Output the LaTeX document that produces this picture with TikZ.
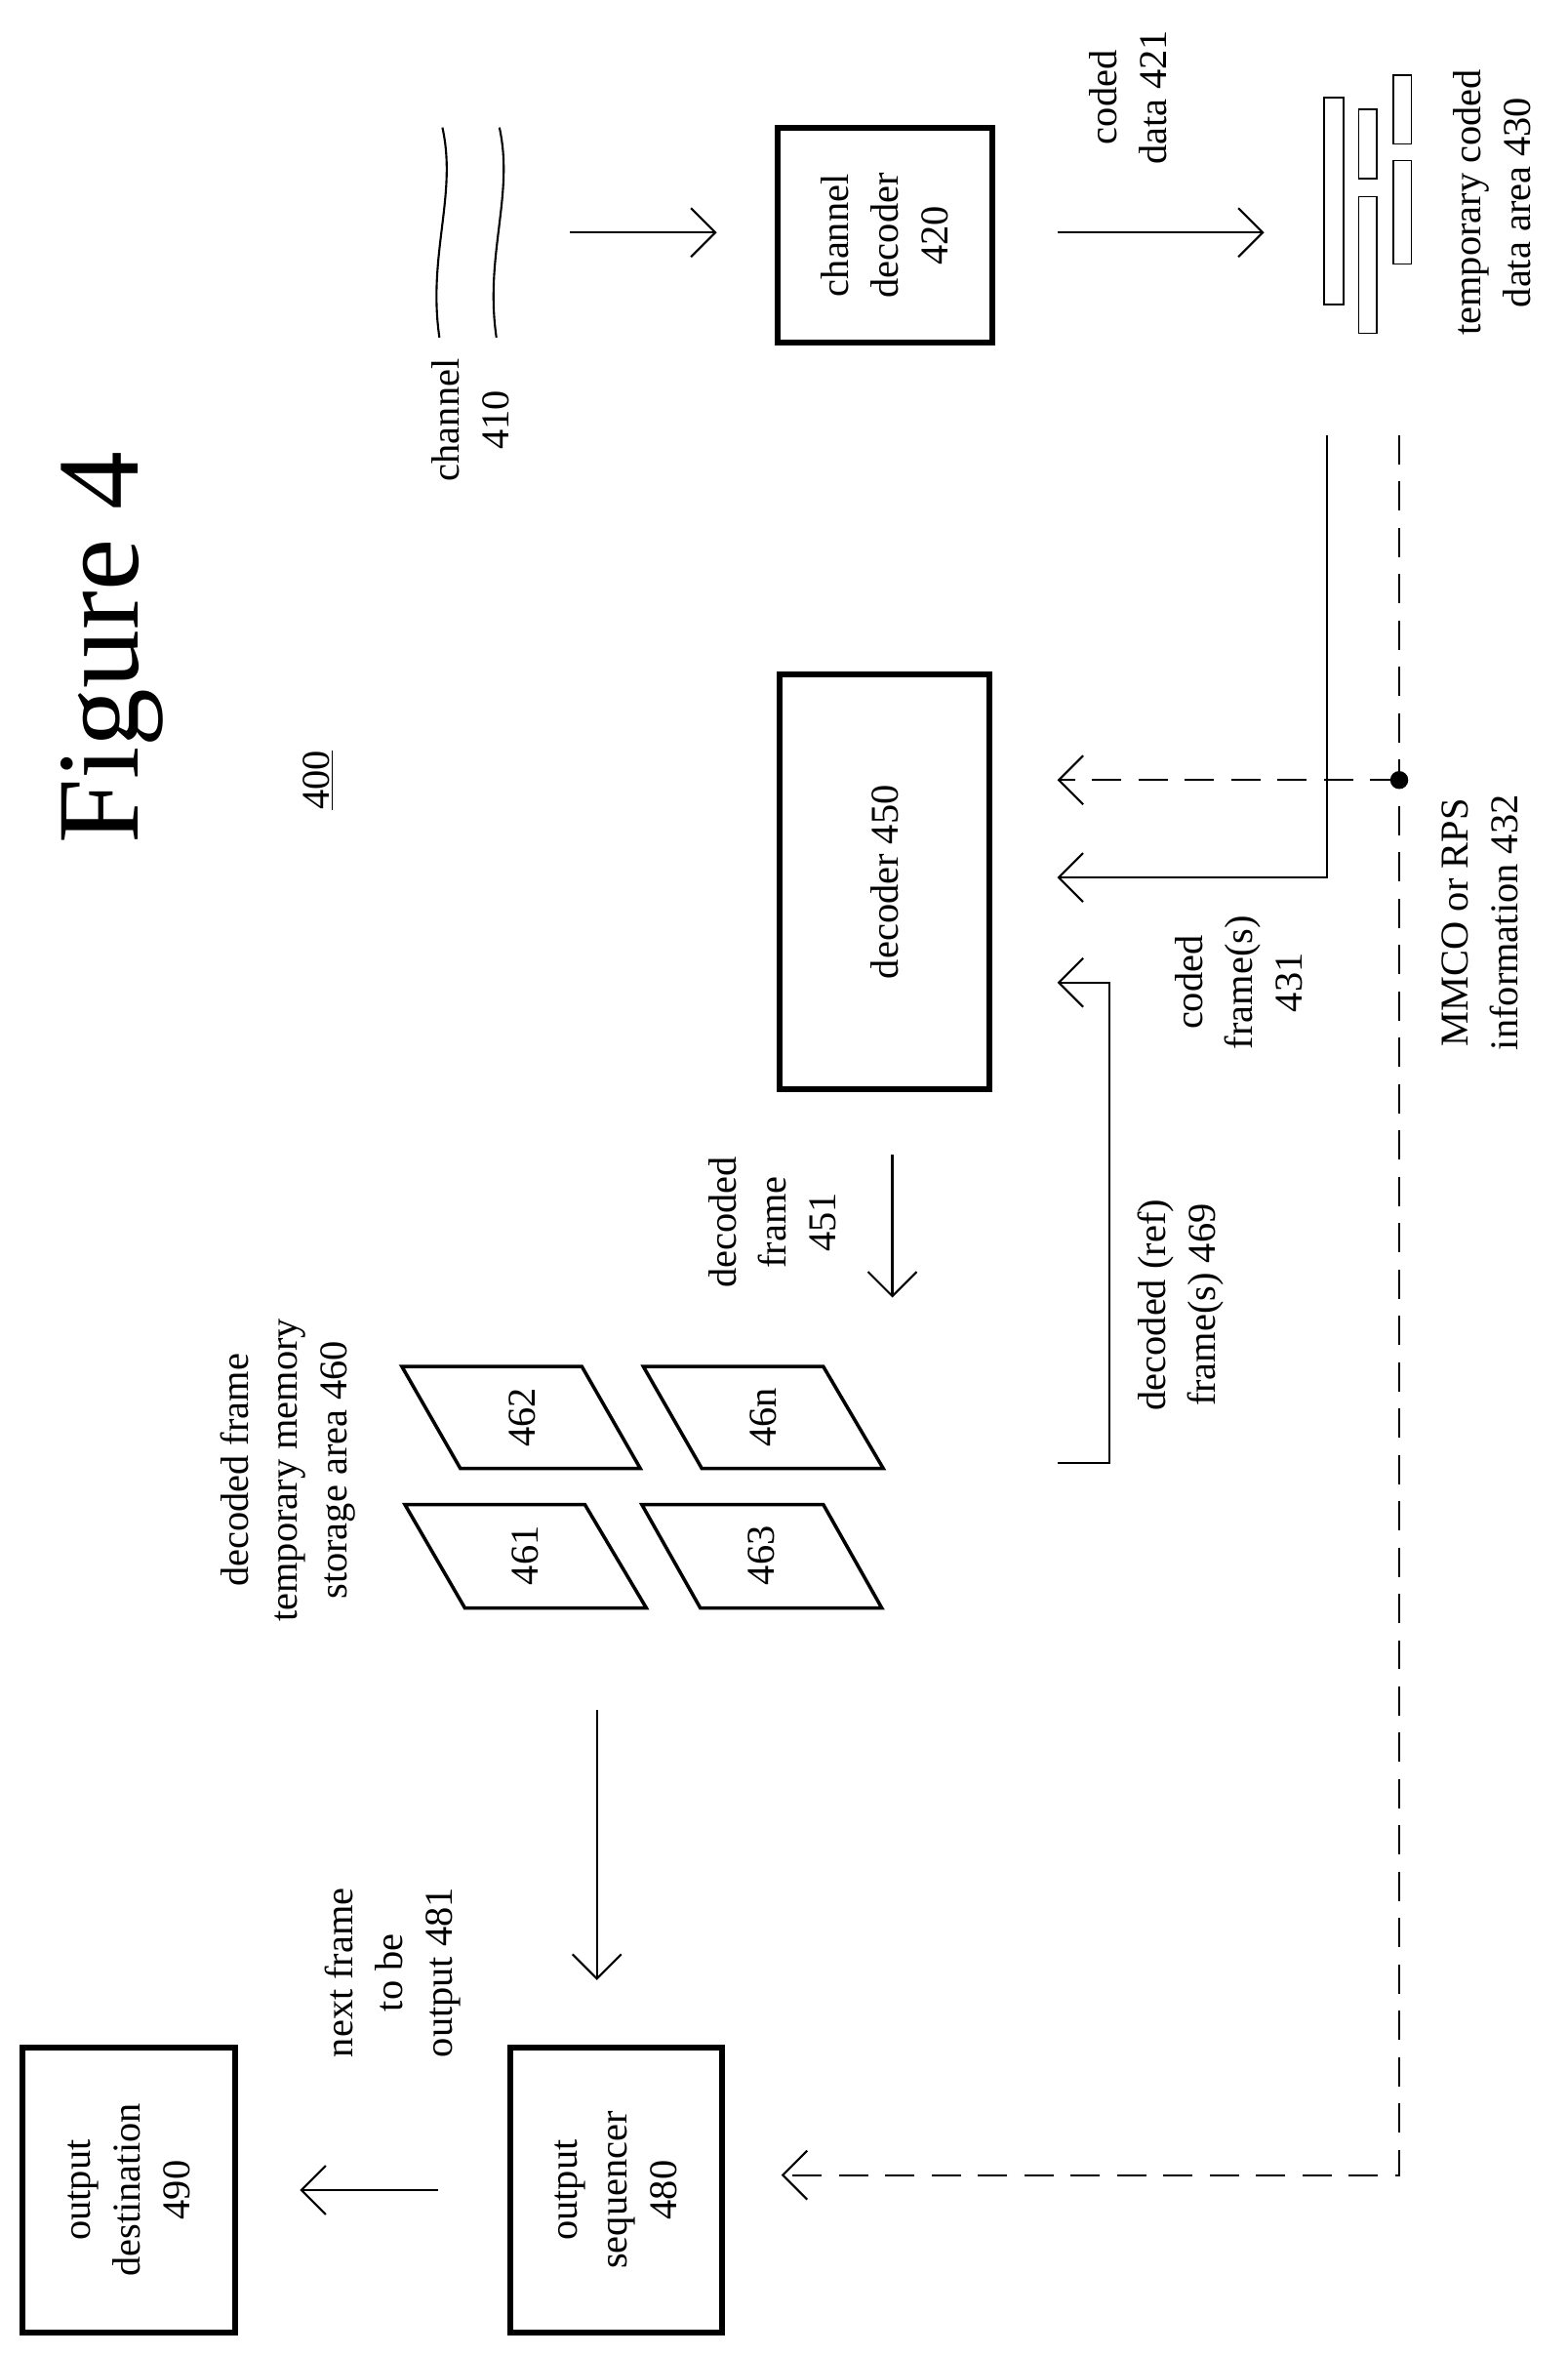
\documentclass[tikz,border=0pt]{standalone}
\usepackage{fontspec}
\setmainfont{Liberation Serif}
\usetikzlibrary{arrows.meta}
\tikzset{
  lbl/.style={rotate=90, align=center, font=\fontsize{23}{29}\selectfont},
  blk/.style={draw, line width=3.4pt, align=center, font=\fontsize{23}{29}\selectfont},
  frm/.style={draw, line width=2pt},
  arr/.style={line width=1.2pt, -{Straight Barb[length=0.5cm, width=1cm]}},
  dsh/.style={arr, dash pattern=on 0.6cm off 0.35cm},
  buf/.style={draw, line width=0.8pt}
}
\begin{document}
\begin{tikzpicture}[x=0.03074cm, y=-0.03074cm]
  \useasboundingbox (0,0) rectangle (1045,1570.6);
  % Title
  \node (title) [rotate=90, font=\fontsize{68}{80}\selectfont] at (75,432) {Figure 4};
  \node (num) [lbl] at (212,520) {\underline{400}};
  % Channel
  \draw[line width=1.2pt] (295,85) .. controls (305,130) and (285,170) .. (293,225);
  \draw[line width=1.2pt] (333,85) .. controls (343,130) and (323,170) .. (331,225);
  \node (ch) [lbl] at (314,280) {channel\\410};
  \coordinate (ch-out) at (380,155);
  % Blocks
  \node (cdec) [blk, minimum width=4.4cm, minimum height=4.4cm] at (590,157) {};
  \node [lbl] at (cdec) {channel\\decoder\\420};
  \node (dec) [blk, minimum width=4.3cm, minimum height=8.5cm] at (590,588) {};
  \node [lbl] at (dec) {decoder 450};
  \node (seq) [blk, minimum width=4.35cm, minimum height=5.85cm] at (411,1460) {};
  \node [lbl] at (seq) {output\\sequencer\\480};
  \node (dest) [blk, minimum width=4.35cm, minimum height=5.85cm] at (86,1460) {};
  \node [lbl] at (dest) {output\\destination\\490};
  % Coded data buffer
  \draw[buf] (883,65) rectangle (896,203);
  \draw[buf] (906,73) rectangle (918,119);
  \draw[buf] (906,131) rectangle (918,222);
  \draw[buf] (929,50) rectangle (941,96);
  \draw[buf] (929,107) rectangle (941,176);
  \node (buf) [lbl] at (995,135) {temporary coded\\data area 430};
  % Frame store
  \draw[frm] (270,1003) -- (390,1003) -- (431,1072) -- (310,1072) -- cycle;
  \node (f1) [lbl] at (350,1037) {461};
  \draw[frm] (268,911) -- (388,911) -- (427,979) -- (307,979) -- cycle;
  \node (f2) [lbl] at (348,945) {462};
  \draw[frm] (428,1003) -- (549,1003) -- (588,1072) -- (467,1072) -- cycle;
  \node (f3) [lbl] at (508,1037) {463};
  \draw[frm] (429,911) -- (549,911) -- (589,979) -- (468,979) -- cycle;
  \node (fn) [lbl] at (509,945) {46n};
  \node (store) [lbl] at (192,980) {decoded frame\\temporary memory\\storage area 460};
  % Labels
  \node (l421) [lbl] at (752,65) {coded\\data 421};
  \node (l431) [lbl] at (826,655) {coded\\frame(s)\\431};
  \node (l432) [lbl] at (987,615) {MMCO or RPS\\information 432};
  \node (l469) [lbl] at (787,870) {decoded (ref)\\frame(s) 469};
  \node (l451) [lbl] at (515,815) {decoded\\frame\\451};
  \node (l481) [lbl] at (262,1315) {next frame\\to be\\output 481};
  % Coordinates
  \coordinate (b-top) at (885,290);
  \coordinate (d-top) at (933,290);
  \coordinate (dot) at (933,520);
  \coordinate (ref-out) at (705,975);
  % Arrows
  \draw[arr] (ch-out) -- (478,155);
  \draw[arr] (705,155) -- (843,155);
  \draw[arr] (b-top) -- (885,585) -- (705,585);
  \draw[dsh] (d-top) -- (933,1450) -- (521,1450);
  \fill (dot) circle (6);
  \draw[dsh] (dot) -- (705,520);
  \draw[arr] (ref-out) -- (740,975) -- (740,655) -- (705,655);
  \draw[arr] (595,770) -- (595,865);
  \draw[arr] (398,1140) -- (398,1320);
  \draw[arr] (292,1460) -- (200,1460);
\end{tikzpicture}
\end{document}
